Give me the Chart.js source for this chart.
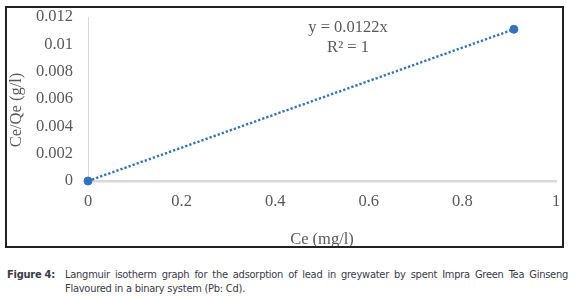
<!DOCTYPE html>
<html>
<head>
<meta charset="utf-8">
<script src="https://cdn.jsdelivr.net/npm/chart.js@4"></script>
<style>
  html, body { margin: 0; padding: 0; background: #fff; }
  body { width: 576px; height: 300px; position: relative; overflow: hidden; }
  #wrap { position: absolute; left: 0; top: 0; width: 576px; height: 255px; }
  #frame { position: absolute; left: 5px; top: 6px; width: 555px; height: 238px; border: 2px solid #222; pointer-events: none; }
  #caption { position: absolute; left: 7px; top: 268px; width: 561px; font-family: 'DejaVu Sans Condensed', 'DejaVu Sans', sans-serif; font-stretch: condensed; font-size: 11px; letter-spacing: -0.25px; line-height: 14px; color: #3a3a48; display: flex; }
  #caption .lab { width: 58px; flex: none; font-weight: bold; }
  #caption .txt { flex: 1; text-align: justify; }
</style>
</head>
<body>
<div id="wrap"><canvas id="c" width="576" height="255"></canvas></div>
<div id="frame"></div>
<div id="caption"><div class="lab">Figure 4:</div><div class="txt">Langmuir isotherm graph for the adsorption of lead in greywater by spent Impra Green Tea Ginseng Flavoured in a binary system (Pb: Cd).</div></div>
<script>
// Data
const ceValues = [0, 0.91];          // Ce (mg/l)
const ceQeValues = [0, 0.0111];      // Ce/Qe (g/l)
const xTicks = [0, 0.2, 0.4, 0.6, 0.8, 1];
const yTicks = [0, 0.002, 0.004, 0.006, 0.008, 0.01, 0.012];
const xTitle = 'Ce (mg/l)';
const yTitle = 'Ce/Qe (g/l)';
const equationLines = ['y = 0.0122x', 'R\u00B2 = 1'];

const points = ceValues.map((x, i) => ({ x: x, y: ceQeValues[i] }));
const blue = '#2E74C2';
const grey = '#595959';
const serif = "'Liberation Serif', 'Times New Roman', serif";

const overlay = {
  id: 'overlay',
  afterDraw(chart) {
    const ctx = chart.ctx;
    const area = chart.chartArea;
    ctx.save();
    ctx.fillStyle = grey;
    ctx.font = '16.5px ' + serif;
    ctx.textAlign = 'center';
    ctx.textBaseline = 'middle';
    const ex = area.left + 260;
    ctx.fillText(equationLines[0], ex, area.top + 11);
    ctx.fillText(equationLines[1], ex, area.top + 31);
    ctx.translate(17, area.top + 93);
    ctx.rotate(-Math.PI / 2);
    ctx.fillText(yTitle, 0, 0);
    ctx.restore();
  }
};

new Chart(document.getElementById('c'), {
  type: 'scatter',
  data: {
    datasets: [
      {
        data: points,
        backgroundColor: blue,
        borderColor: blue,
        pointRadius: 4,
        pointHoverRadius: 4,
        clip: false,
        order: 1
      },
      {
        data: points,
        showLine: true,
        borderColor: blue,
        borderWidth: 2.4,
        borderDash: [2.3, 2],
        pointRadius: 0,
        fill: false,
        clip: false,
        order: 2
      }
    ]
  },
  options: {
    responsive: false,
    animation: false,
    events: [],
    layout: { padding: { left: 0, right: 20, top: 17, bottom: 0 } },
    plugins: { legend: { display: false }, tooltip: { enabled: false } },
    scales: {
      x: {
        type: 'linear',
        min: 0, max: 1,
        afterBuildTicks(s) { s.ticks = xTicks.map(v => ({ value: v })); },
        afterFit(s) { s.height = 74; },
        grid: { display: false, drawTicks: false },
        border: { display: true, color: '#D9D9D9', width: 2.5 },
        ticks: {
          color: grey, padding: 11,
          font: { family: serif, size: 16.5 },
          maxRotation: 0,
          callback: v => String(v)
        },
        title: {
          display: true, text: xTitle, color: grey,
          font: { family: serif, size: 16.5 },
          padding: { top: 0, bottom: 5 }
        }
      },
      y: {
        type: 'linear',
        min: 0, max: 0.012,
        afterBuildTicks(s) { s.ticks = yTicks.map(v => ({ value: v })); },
        afterFit(s) { s.width = 88; },
        grid: { display: false, drawTicks: true, drawOnChartArea: false, tickLength: 15, tickColor: 'rgba(0,0,0,0)' },
        border: { display: true, color: '#D9D9D9', width: 1 },
        ticks: {
          color: grey, padding: 0,
          font: { family: serif, size: 16.5 },
          callback: v => String(parseFloat(v.toFixed(4)))
        }
      }
    }
  },
  plugins: [overlay]
});
</script>
</body>
</html>
